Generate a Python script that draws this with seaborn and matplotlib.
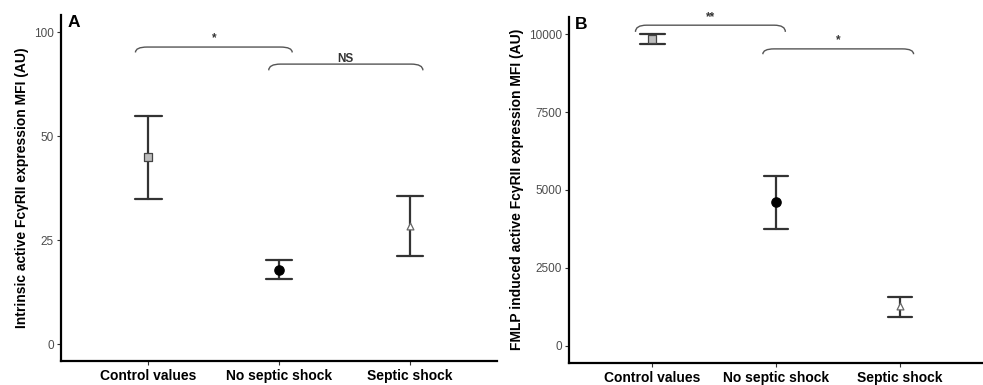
import numpy as np
import pandas as pd
import matplotlib
matplotlib.use("Agg")
import matplotlib.pyplot as plt
from matplotlib.path import Path
from matplotlib.patches import PathPatch
import seaborn as sns

# ---------------- data ----------------
groups = ["Control values", "No septic shock", "Septic shock"]

a_mean = [45.0, 17.9, 28.4]
a_lower = [34.9, 15.7, 21.2]
a_upper = [55.0, 20.2, 35.6]
a_ticks = [0, 25, 50, 75]
a_ticklabels = ["0", "25", "50", "100"]
a_ylabel = "Intrinsic active FcγRII expression MFI (AU)"

b_mean = [9849, 4608, 1276]
b_lower = [9700, 3760, 932]
b_upper = [10000, 5453, 1575]
b_ticks = [0, 2500, 5000, 7500, 10000]
b_ticklabels = ["0", "2500", "5000", "7500", "10000"]
b_ylabel = "FMLP induced active FcγRII expression MFI (AU)"

# significance brackets: (x_start, x_end, y_top, y_end, label, label_y)
a_brackets = [(-0.10, 1.10, 71.5, 70.2, "*", 73.6),
              (0.92, 2.10, 67.4, 65.9, "NS", 68.6)]
b_brackets = [(-0.135, 1.075, 10289, 10074, "**", 10546),
              (0.893, 2.11, 9528, 9357, "*", 9794)]

marker_styles = [
    dict(marker="s", color="#bdbdbd", edgecolor="#444444", s=28),
    dict(marker="o", color="black", edgecolor="black", s=45),
    dict(marker="^", color="white", edgecolor="#666666", s=24),
]

sns.set_theme(style="white")
plt.rcParams["font.family"] = ["Liberation Sans", "DejaVu Sans"]

fig = plt.figure(figsize=(9.83, 3.85), dpi=100)
axA = fig.add_axes([0.062, 0.062, 0.444, 0.899])
axB = fig.add_axes([0.579, 0.057, 0.421, 0.900])


def bracket(ax, x0, x1, ytop, yend, r, color="#555555"):
    verts = [(x0, yend), (x0, ytop), (x0 + r, ytop),
             (x1 - r, ytop),
             (x1, ytop), (x1, yend)]
    codes = [Path.MOVETO, Path.CURVE3, Path.CURVE3,
             Path.LINETO, Path.CURVE3, Path.CURVE3]
    ax.add_patch(PathPatch(Path(verts, codes), facecolor="none",
                           edgecolor=color, lw=1.0))


def panel(ax, mean, lower, upper, ticks, ticklabels, ylabel, ylim,
          brackets, letter):
    long = pd.DataFrame({
        "group": groups * 3,
        "value": list(lower) + list(mean) + list(upper),
    })
    sns.pointplot(data=long, x="group", y="value", order=groups,
                  estimator="median", errorbar=("pi", 100),
                  capsize=0.2, color="#333333", linestyle="none",
                  marker="", err_kws={"linewidth": 1.6}, ax=ax)
    for i, (g, m) in enumerate(zip(groups, mean)):
        st = marker_styles[i]
        sns.scatterplot(x=[i], y=[m], marker=st["marker"], color=st["color"],
                        edgecolor=st["edgecolor"], s=st["s"], linewidth=0.9,
                        ax=ax, zorder=5, legend=False)
    for (x0, x1, yt, ye, lab, ly) in brackets:
        rr = 0.09
        bracket(ax, x0, x1, yt, ye, rr)
        ax.text((x0 + x1) / 2, ly, lab, ha="center", va="center",
                fontsize=8.5, fontweight="bold", color="#333333")
    ax.set_xlim(-0.67, 2.67)
    ax.set_ylim(*ylim)
    ax.set_yticks(ticks)
    ax.set_yticklabels(ticklabels)
    ax.set_xticks(range(len(groups)))
    ax.set_xticklabels(groups, fontweight="bold", fontsize=10, color="black")
    ax.set_xlabel("")
    ax.set_ylabel(ylabel, fontweight="bold", fontsize=10, color="black",
                  labelpad=4)
    ax.tick_params(axis="y", labelsize=8.5, labelcolor="#4d4d4d",
                   length=3, width=0.8, color="#333333", left=True, pad=2)
    ax.tick_params(axis="x", length=3, width=0.8, color="#333333",
                   bottom=True, pad=3)
    for sp in ["top", "right"]:
        ax.spines[sp].set_visible(False)
    for sp in ["left", "bottom"]:
        ax.spines[sp].set_color("black")
        ax.spines[sp].set_linewidth(1.6)
    ax.text(0.015, 1.0, letter, transform=ax.transAxes, ha="left",
            va="top", fontsize=12.5, fontweight="bold", color="black")


panel(axA, a_mean, a_lower, a_upper, a_ticks, a_ticklabels, a_ylabel,
      (-4.0, 79.2), a_brackets, "A")
panel(axB, b_mean, b_lower, b_upper, b_ticks, b_ticklabels, b_ylabel,
      (-556, 10566), b_brackets, "B")

fig.savefig("out.png", dpi=100)
